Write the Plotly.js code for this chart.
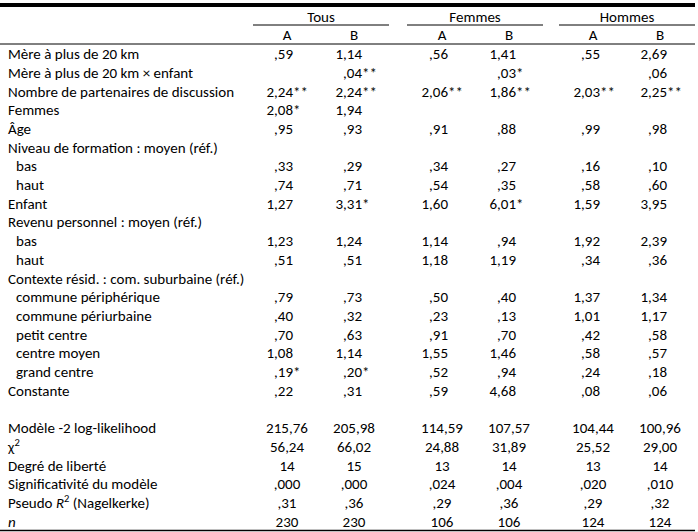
<!DOCTYPE html>
<html>
<head>
<meta charset="utf-8">
<script src="https://cdn.plot.ly/plotly-3.0.1.min.js"></script>
<style>html,body{margin:0;padding:0;background:#fff;}#chart{width:698px;height:532px;}</style>
</head>
<body>
<div id="chart"></div>
<script>
// ---------- DATA ----------
const groups = ["Tous", "Femmes", "Hommes"];
const models = ["A", "B", "A", "B", "A", "B"];

const rowLabels = [
  "Mère à plus de 20 km",
  "Mère à plus de 20 km × enfant",
  "Nombre de partenaires de discussion",
  "Femmes",
  "Âge",
  "Niveau de formation : moyen (réf.)",
  "bas",
  "haut",
  "Enfant",
  "Revenu personnel : moyen (réf.)",
  "bas",
  "haut",
  "Contexte résid. : com. suburbaine (réf.)",
  "commune périphérique",
  "commune périurbaine",
  "petit centre",
  "centre moyen",
  "grand centre",
  "Constante"
];
const rowIndent = [0,0,0,0,0,0,1,1,0,0,1,1,0,1,1,1,1,1,0];

// odds ratios per model column (null = empty cell)
const tousA    = [0.59, null, 2.24, 2.08, 0.95, null, 0.33, 0.74, 1.27, null, 1.23, 0.51, null, 0.79, 0.40, 0.70, 1.08, 0.19, 0.22];
const tousB    = [1.14, 0.04, 2.24, 1.94, 0.93, null, 0.29, 0.71, 3.31, null, 1.24, 0.51, null, 0.73, 0.32, 0.63, 1.14, 0.20, 0.31];
const femmesA  = [0.56, null, 2.06, null, 0.91, null, 0.34, 0.54, 1.60, null, 1.14, 1.18, null, 0.50, 0.23, 0.91, 1.55, 0.52, 0.59];
const femmesB  = [1.41, 0.03, 1.86, null, 0.88, null, 0.27, 0.35, 6.01, null, 0.94, 1.19, null, 0.40, 0.13, 0.70, 1.46, 0.94, 4.68];
const hommesA  = [0.55, null, 2.03, null, 0.99, null, 0.16, 0.58, 1.59, null, 1.92, 0.34, null, 1.37, 1.01, 0.42, 0.58, 0.24, 0.08];
const hommesB  = [2.69, 0.06, 2.25, null, 0.98, null, 0.10, 0.60, 3.95, null, 2.39, 0.36, null, 1.34, 1.17, 0.58, 0.57, 0.18, 0.06];

// significance stars per model column
const tousAsig   = ["", "", "**", "*", "", "", "", "", "", "", "", "", "", "", "", "", "", "*", ""];
const tousBsig   = ["", "**", "**", "", "", "", "", "", "*", "", "", "", "", "", "", "", "", "*", ""];
const femmesAsig = ["", "", "**", "", "", "", "", "", "", "", "", "", "", "", "", "", "", "", ""];
const femmesBsig = ["", "*", "**", "", "", "", "", "", "*", "", "", "", "", "", "", "", "", "", ""];
const hommesAsig = ["", "", "**", "", "", "", "", "", "", "", "", "", "", "", "", "", "", "", ""];
const hommesBsig = ["", "", "**", "", "", "", "", "", "", "", "", "", "", "", "", "", "", "", ""];

// model fit statistics
const statLabels = ["Modèle -2 log-likelihood", "χ<sup>2</sup>", "Degré de liberté",
                    "Significativité du modèle", "Pseudo <i>R</i><sup>2</sup> (Nagelkerke)", "<i>n</i>"];
const logLik   = [215.76, 205.98, 114.59, 107.57, 104.44, 100.96];
const chi2     = [56.24, 66.02, 24.88, 31.89, 25.52, 29.00];
const degFree  = [14, 15, 13, 14, 13, 14];
const signif   = [0.000, 0.000, 0.024, 0.004, 0.020, 0.010];
const pseudoR2 = [0.31, 0.36, 0.29, 0.36, 0.29, 0.32];
const nObs     = [230, 230, 106, 106, 124, 124];
const statDecimals = [2, 2, 0, 3, 2, 0];

// ---------- LAYOUT CONFIG ----------
const FONT = {family: "Carlito, Calibri, Lato, sans-serif", size: 15, color: "#000"};
const labelX = [8, 16];               // left edge for normal / indented labels
const groupCenter = [321, 475, 627];
const groupSpan = [[253, 389], [407, 543], [559, 695]];
const colCenter = [287, 354, 442, 509, 593, 660];
const colRight  = [293, 362, 448, 516, 600, 667];
const firstDataRow = 2;
const firstStatRow = 22;
const ROW_TOP_PX = 18, ROW_PX = 18.7, H = 532, W = 698;

// ---------- BUILD ----------
function fmt(v, dec) {
  if (v === null || v === undefined) return "";
  let s = v.toFixed(dec).replace(".", ",");
  if (s.startsWith("0,")) s = s.slice(1);
  return s;
}
// text-only scatter trace; empty cells are left out
const textTrace = (x, y, text, pos) => {
  const keep = text.map((t, i) => t !== "" ? i : -1).filter(i => i >= 0);
  return {
    type: "scatter", mode: "text",
    x: keep.map(i => x[i]), y: keep.map(i => y[i]), text: keep.map(i => text[i]),
    textposition: pos, textfont: FONT, hoverinfo: "skip", showlegend: false, cliponaxis: false
  };
};

const traces = [];
const dataRows = rowLabels.map((_, i) => firstDataRow + i);

// row labels
traces.push(textTrace(rowIndent.map(d => labelX[d]), dataRows, rowLabels, "middle right"));
// stat labels
const statRows = statLabels.map((_, i) => firstStatRow + i);
traces.push(textTrace(statLabels.map(() => labelX[0]), statRows, statLabels, "middle right"));
// group headers
traces.push(textTrace(groupCenter, groups.map(() => 0), groups, "middle center"));
// model headers
traces.push(textTrace(colCenter, models.map(() => 1), models, "middle center"));

// coefficient columns
const cols = [tousA, tousB, femmesA, femmesB, hommesA, hommesB];
const sigs = [tousAsig, tousBsig, femmesAsig, femmesBsig, hommesAsig, hommesBsig];
cols.forEach((col, j) => {
  traces.push(textTrace(col.map(() => colRight[j]), dataRows, col.map(v => fmt(v, 2)), "middle left"));
  traces.push(textTrace(col.map(() => colRight[j]), dataRows, sigs[j], "middle right"));
});

// statistics block
const stats = [logLik, chi2, degFree, signif, pseudoR2, nObs];
stats.forEach((arr, r) => {
  traces.push(textTrace(colCenter, arr.map(() => firstStatRow + r), arr.map(v => fmt(v, statDecimals[r])), "middle center"));
});

// rules (in data coordinates: x pixels, y rows)
const pxToRow = px => (px - ROW_TOP_PX) / ROW_PX;
const shapes = [];
const hline = (x0, x1, ypx, w) => shapes.push({type: "line", xref: "x", yref: "y", x0: x0, x1: x1,
  y0: pxToRow(ypx), y1: pxToRow(ypx), line: {color: "#000", width: w}});
hline(0, 695, 5, 4);
groupSpan.forEach(s => hline(s[0], s[1], 25, 1));
hline(0, 695, 44, 1);
hline(0, 695, 530.5, 1.5);

const layout = {
  width: W, height: H,
  margin: {l: 0, r: 0, t: 0, b: 0, pad: 0},
  paper_bgcolor: "#fff", plot_bgcolor: "#fff",
  xaxis: {range: [0, W], visible: false, fixedrange: true},
  yaxis: {range: [pxToRow(H), pxToRow(0)], visible: false, fixedrange: true},
  shapes: shapes,
  showlegend: false,
  font: FONT
};
Plotly.newPlot("chart", traces, layout, {staticPlot: true, displayModeBar: false});
</script>
</body>
</html>
